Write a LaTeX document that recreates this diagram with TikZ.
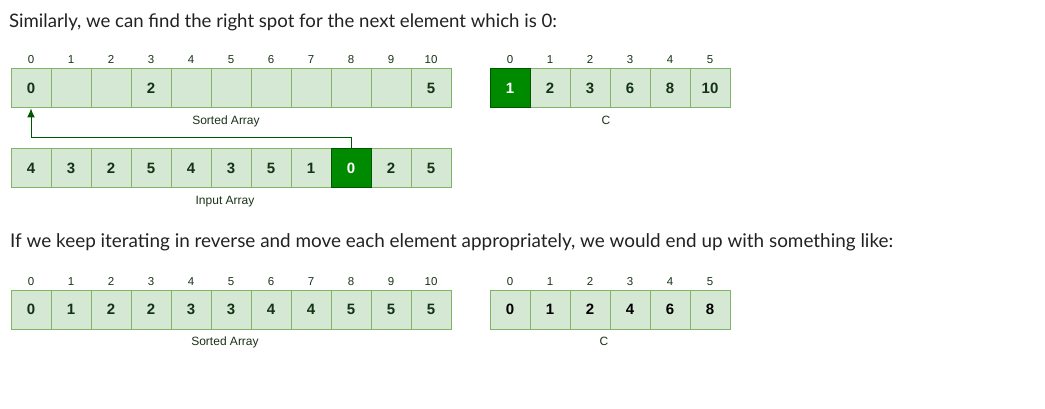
\documentclass[tikz,border=0pt]{standalone}
\usepackage{fontspec}
\setmainfont{Liberation Sans}
\newfontfamily\headfont{Lato}
\usetikzlibrary{arrows.meta}
\definecolor{cellfill}{HTML}{D5E8D4}
\definecolor{celldraw}{HTML}{82B366}
\definecolor{darkfill}{HTML}{008A00}
\definecolor{darkdraw}{HTML}{005700}
\definecolor{numtxt}{HTML}{143314}
\definecolor{idxtxt}{HTML}{1A331A}
\definecolor{headtxt}{HTML}{222222}
\tikzset{
  cell/.style={draw=celldraw, fill=cellfill, line width=1pt, minimum width=40pt, minimum height=39pt, inner sep=0pt, font=\fontsize{15}{17}\selectfont\bfseries, text=numtxt},
  hot/.style={draw=darkdraw, fill=darkfill, text=white},
  idx/.style={font=\fontsize{11.5}{13}\selectfont, text=idxtxt, inner sep=0pt, anchor=base},
  lbl/.style={font=\fontsize{12}{14}\selectfont, text=idxtxt, inner sep=0pt, anchor=base},
  head/.style={font=\headfont\fontsize{18.6}{22}\selectfont, text=headtxt, inner sep=0pt, anchor=base west},
  link/.style={draw=darkdraw, line width=1pt, -{Latex[length=9pt,width=8pt]}}
}
\begin{document}
\begin{tikzpicture}[x=1pt,y=-1pt]
\useasboundingbox[fill=white] (0,0) rectangle (1045,409);
\node[head] (h1) at (9,27.5) {Similarly, we can find the right spot for the next element which is 0:};
\node[head,font=\headfont\fontsize{18.9}{22}\selectfont] (h2) at (10,247.5) {If we keep iterating in reverse and move each element appropriately, we would end up with something like:};
% top sorted array
\foreach \v [count=\i from 0] in {0,,,2,,,,,,,5} {
  \node[cell] (s\i) at (31+40*\i,88.5) {\v};
  \node[idx] (si\i) at (31+40*\i,64) {\i};
}
\node[lbl] (slbl) at (226,124.5) {Sorted Array};
% top C
\foreach \v [count=\i from 0] in {1,2,3,6,8,10} {
  \node[cell] (c\i) at (510+40*\i,88.5) {\v};
  \node[idx] (ci\i) at (510+40*\i,64) {\i};
}
\node[cell,hot] at (c0) {1};
\node[lbl] (clbl) at (606,124.5) {C};
% input array
\foreach \v [count=\i from 0] in {4,3,2,5,4,3,5,1,0,2,5} {
  \node[cell] (in\i) at (31+40*\i,168.5) {\v};
}
\node[cell,hot] at (in8) {0};
\node[lbl] (inlbl) at (225,204.5) {Input Array};
\draw[link] (in8.north) -- ++(0,-11) -| (s0.south);
% bottom sorted array
\foreach \v [count=\i from 0] in {0,1,2,2,3,3,4,4,5,5,5} {
  \node[cell] (b\i) at (31+40*\i,309.5) {\v};
  \node[idx] (bi\i) at (31+40*\i,285) {\i};
}
\node[lbl] (blbl) at (225,345.5) {Sorted Array};
% bottom C
\foreach \v [count=\i from 0] in {0,1,2,4,6,8} {
  \node[cell,text=black] (d\i) at (510+40*\i,309.5) {\v};
  \node[idx] (di\i) at (510+40*\i,285) {\i};
}
\node[lbl] (dlbl) at (604,345.5) {C};
\end{tikzpicture}
\end{document}
